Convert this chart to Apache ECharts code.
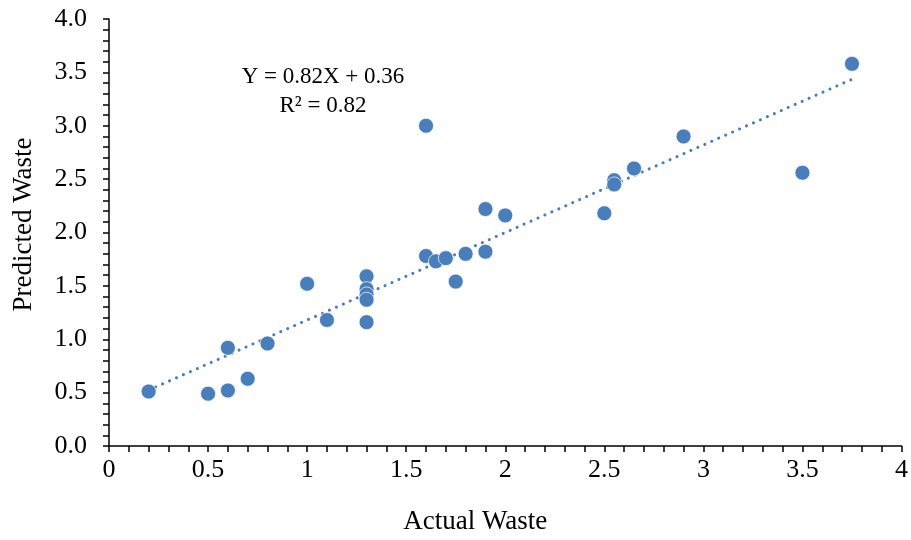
<!DOCTYPE html>
<html>
<head>
<meta charset="utf-8">
<script src="https://cdn.jsdelivr.net/npm/echarts@6/dist/echarts.min.js"></script>
<style>
  html, body { margin: 0; padding: 0; background: #fff; }
  #chart { width: 911px; height: 540px; }
</style>
</head>
<body>
<div id="chart"></div>
<script>
  // actual vs predicted waste
  var actualWaste = [0.2, 0.5, 0.6, 0.6, 0.7, 0.8, 1.0, 1.1, 1.3, 1.3, 1.3, 1.3, 1.3,
                     1.6, 1.6, 1.65, 1.7, 1.75, 1.8, 1.9, 1.9, 2.0, 2.5, 2.55, 2.55, 2.65, 2.9, 3.5, 3.75];
  var predictedWaste = [0.51, 0.49, 0.52, 0.92, 0.63, 0.96, 1.52, 1.18, 1.59, 1.47, 1.42, 1.37, 1.16,
                        3.0, 1.78, 1.73, 1.76, 1.54, 1.80, 2.22, 1.82, 2.16, 2.18, 2.49, 2.45, 2.60, 2.90, 2.56, 3.58];
  var trendSlope = 0.82;
  var trendIntercept = 0.36;
  var equationLines = ['Y = 0.82X + 0.36', 'R² = 0.82'];

  var points = actualWaste.map(function (x, i) { return [x, predictedWaste[i]]; });
  var xMin = Math.min.apply(null, actualWaste);
  var xMax = Math.max.apply(null, actualWaste);
  var trend = [[xMin, trendSlope * xMin + trendIntercept], [xMax, trendSlope * xMax + trendIntercept]];

  var font = 'Liberation Serif';
  var blue = '#4a7ebb';

  var myChart = echarts.init(document.getElementById('chart'));
  myChart.setOption({
    animation: false,
    grid: { left: 109, right: 5, top: 19, bottom: 93, containLabel: false },
    xAxis: {
      type: 'value',
      min: 0, max: 4, interval: 0.5,
      name: 'Actual Waste',
      nameLocation: 'middle',
      nameGap: 62,
      nameTextStyle: { fontFamily: font, fontSize: 27, color: '#000', padding: [0, 60, 0, 0] },
      axisLine: { show: true, lineStyle: { color: '#000', width: 1.5 } },
      axisTick: { show: true, length: 6, lineStyle: { color: '#000', width: 1.5 } },
      minorTick: { show: true, splitNumber: 5, length: 6, lineStyle: { color: '#000', width: 1.5 } },
      splitLine: { show: false },
      axisLabel: {
        fontFamily: font, fontSize: 26, color: '#000', margin: 11,
        formatter: function (v) { return String(v); }
      }
    },
    yAxis: {
      type: 'value',
      min: 0, max: 4, interval: 0.5,
      name: 'Predicted Waste',
      nameLocation: 'middle',
      nameGap: 72,
      nameTextStyle: { fontFamily: font, fontSize: 27, color: '#000', padding: [0, 0, 0, 16] },
      axisLine: { show: true, lineStyle: { color: '#000', width: 1.5 } },
      axisTick: { show: true, length: 6, lineStyle: { color: '#000', width: 1.5 } },
      minorTick: { show: true, splitNumber: 5, length: 6, lineStyle: { color: '#000', width: 1.5 } },
      splitLine: { show: false },
      axisLabel: {
        fontFamily: font, fontSize: 26, color: '#000', margin: 22,
        formatter: function (v) { return v.toFixed(1); }
      }
    },
    graphic: [{
      type: 'text',
      x: 323, y: 62,
      style: {
        text: equationLines.join('\n'),
        font: '23px "' + font + '"',
        fill: '#000',
        align: 'center',
        lineHeight: 29
      }
    }],
    series: [
      {
        name: 'trend',
        type: 'line',
        data: trend,
        symbol: 'none',
        z: 1,
        lineStyle: { color: blue, width: 3, type: [0.1, 7.5], cap: 'round' }
      },
      {
        name: 'waste',
        type: 'scatter',
        data: points,
        symbolSize: 15,
        z: 2,
        itemStyle: { color: blue, borderColor: 'rgba(255,255,255,0.7)', borderWidth: 1, opacity: 1 }
      }
    ]
  });
</script>
</body>
</html>
